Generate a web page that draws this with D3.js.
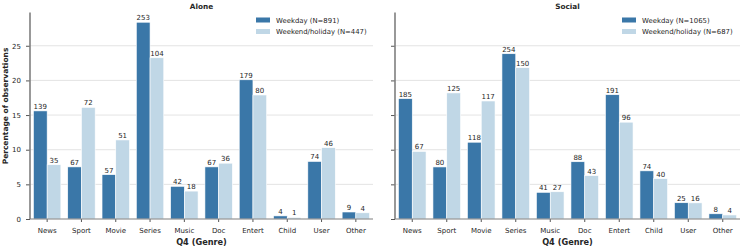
<!DOCTYPE html>
<html>
<head>
<meta charset="utf-8">
<script src="https://cdnjs.cloudflare.com/ajax/libs/d3/7.8.5/d3.min.js"></script>
<style>
  body { margin: 0; background: #fff; }
  svg { font-family: "DejaVu Sans", sans-serif; }
</style>
</head>
<body>
<div id="chart"></div>
<script>
// genres on the x axis
var genres = ["News", "Sport", "Movie", "Series", "Music", "Doc", "Entert", "Child", "User", "Other"];
var yTicks = [0, 5, 10, 15, 20, 25];

// observation counts per genre (labels on top of bars)
var aloneWeekday = [139, 67, 57, 253, 42, 67, 179, 4, 74, 9];
var aloneWeekend = [35, 72, 51, 104, 18, 36, 80, 1, 46, 4];
var socialWeekday = [185, 80, 118, 254, 41, 88, 191, 74, 25, 8];
var socialWeekend = [67, 125, 117, 150, 27, 43, 96, 40, 16, 4];

// group sizes
var aloneN = [891, 447];
var socialN = [1065, 687];

var panelTitles = ["Alone", "Social"];
var seriesNames = ["Weekday", "Weekend/holiday"];

var W = 747, H = 249;
var darkBlue = "#3a77a8", lightBlue = "#c0d7e6";

var svg = d3.select("#chart").append("svg")
    .attr("width", W)
    .attr("height", H);

var y = d3.scaleLinear()
    .domain([0, 29.8])
    .range([219, 12.5]);

var panels = [
    {title: panelTitles[0], wd: aloneWeekday, we: aloneWeekend, n: aloneN, x0: 30, x1: 373, labels: true, legX: 256},
    {title: panelTitles[1], wd: socialWeekday, we: socialWeekend, n: socialN, x0: 395, x1: 740, labels: false, legX: 622}
];

panels.forEach(function(p) {
    var g = svg.append("g");

    var x = d3.scaleBand()
        .domain(genres)
        .range([p.x0, p.x1])
        .paddingInner(0.2)
        .paddingOuter(0.1);
    var bw = x.bandwidth() / 2;

    // grid
    g.selectAll(".grid")
        .data(yTicks.slice(1))
        .enter().append("line")
        .attr("x1", p.x0).attr("x2", p.x1)
        .attr("y1", function(d) { return y(d); })
        .attr("y2", function(d) { return y(d); })
        .attr("stroke", "#dcdcdc")
        .attr("stroke-width", 0.8);

    var rows = [];
    genres.forEach(function(gname, i) {
        rows.push({genre: gname, k: 0, count: p.wd[i], pct: p.wd[i] / p.n[0] * 100});
        rows.push({genre: gname, k: 1, count: p.we[i], pct: p.we[i] / p.n[1] * 100});
    });

    function bx(d) { return x(d.genre) + d.k * bw; }

    g.selectAll(".bar")
        .data(rows)
        .enter().append("rect")
        .attr("x", bx)
        .attr("width", bw)
        .attr("y", function(d) { return y(d.pct); })
        .attr("height", function(d) { return y(0) - y(d.pct); })
        .attr("fill", function(d) { return d.k === 0 ? darkBlue : lightBlue; })
        .attr("stroke", "#fff")
        .attr("stroke-width", 0.6);

    g.selectAll(".lbl")
        .data(rows)
        .enter().append("text")
        .attr("x", function(d) { return bx(d) + bw / 2; })
        .attr("y", function(d) { return y(d.pct) - 2; })
        .attr("text-anchor", "middle")
        .attr("font-size", "7px")
        .attr("fill", "#262626")
        .text(function(d) { return d.count; });

    // axes
    var yAxis = d3.axisLeft(y).tickValues(yTicks).tickSize(4).tickPadding(5)
        .tickFormat(p.labels ? d3.format("d") : "");
    var ya = g.append("g").attr("transform", "translate(" + p.x0 + ",0)").call(yAxis);
    ya.select(".domain").remove();
    ya.selectAll("line").attr("stroke", "#555");
    ya.selectAll("text").attr("font-size", "7px").attr("fill", "#262626")
        .attr("font-family", "DejaVu Sans");

    var xAxis = d3.axisBottom(x).tickSize(3).tickPadding(6);
    var xa = g.append("g").attr("transform", "translate(0," + y(0) + ")").call(xAxis);
    xa.select(".domain").remove();
    xa.selectAll("line").attr("stroke", "#555");
    xa.selectAll("text").attr("font-size", "7px").attr("fill", "#262626")
        .attr("font-family", "DejaVu Sans");

    // spines
    g.append("line")
        .attr("x1", p.x0).attr("x2", p.x0)
        .attr("y1", y.range()[1]).attr("y2", y(0))
        .attr("stroke", "#7f7f7f").attr("stroke-width", 1.6);
    g.append("line")
        .attr("x1", p.x0).attr("x2", p.x1)
        .attr("y1", y(0)).attr("y2", y(0))
        .attr("stroke", "#7f7f7f").attr("stroke-width", 1.2);

    // title
    g.append("text")
        .attr("x", (p.x0 + p.x1) / 2)
        .attr("y", 8.5)
        .attr("text-anchor", "middle")
        .attr("font-size", "7.3px")
        .attr("font-weight", "bold")
        .attr("fill", "#262626")
        .text(p.title);

    g.append("text")
        .attr("x", (p.x0 + p.x1) / 2)
        .attr("y", 245)
        .attr("text-anchor", "middle")
        .attr("font-size", "8.2px")
        .attr("font-weight", "bold")
        .attr("fill", "#262626")
        .text("Q4 (Genre)");

    // legend
    var leg = g.append("g");
    seriesNames.forEach(function(s, k) {
        var ly = 20 + k * 11.5;
        leg.append("rect")
            .attr("x", p.legX).attr("y", ly - 2.5)
            .attr("width", 14).attr("height", 5)
            .attr("fill", k === 0 ? darkBlue : lightBlue);
        leg.append("text")
            .attr("x", p.legX + 20).attr("y", ly + 2.5)
            .attr("font-size", "6.9px")
            .attr("fill", "#262626")
            .text(s + " (N=" + p.n[k] + ")");
    });
});

svg.append("text")
    .attr("transform", "translate(8," + 106 + ") rotate(-90)")
    .attr("text-anchor", "middle")
    .attr("font-size", "7.5px")
    .attr("font-weight", "bold")
    .attr("fill", "#262626")
    .text("Percentage of observations");
</script>
</body>
</html>
